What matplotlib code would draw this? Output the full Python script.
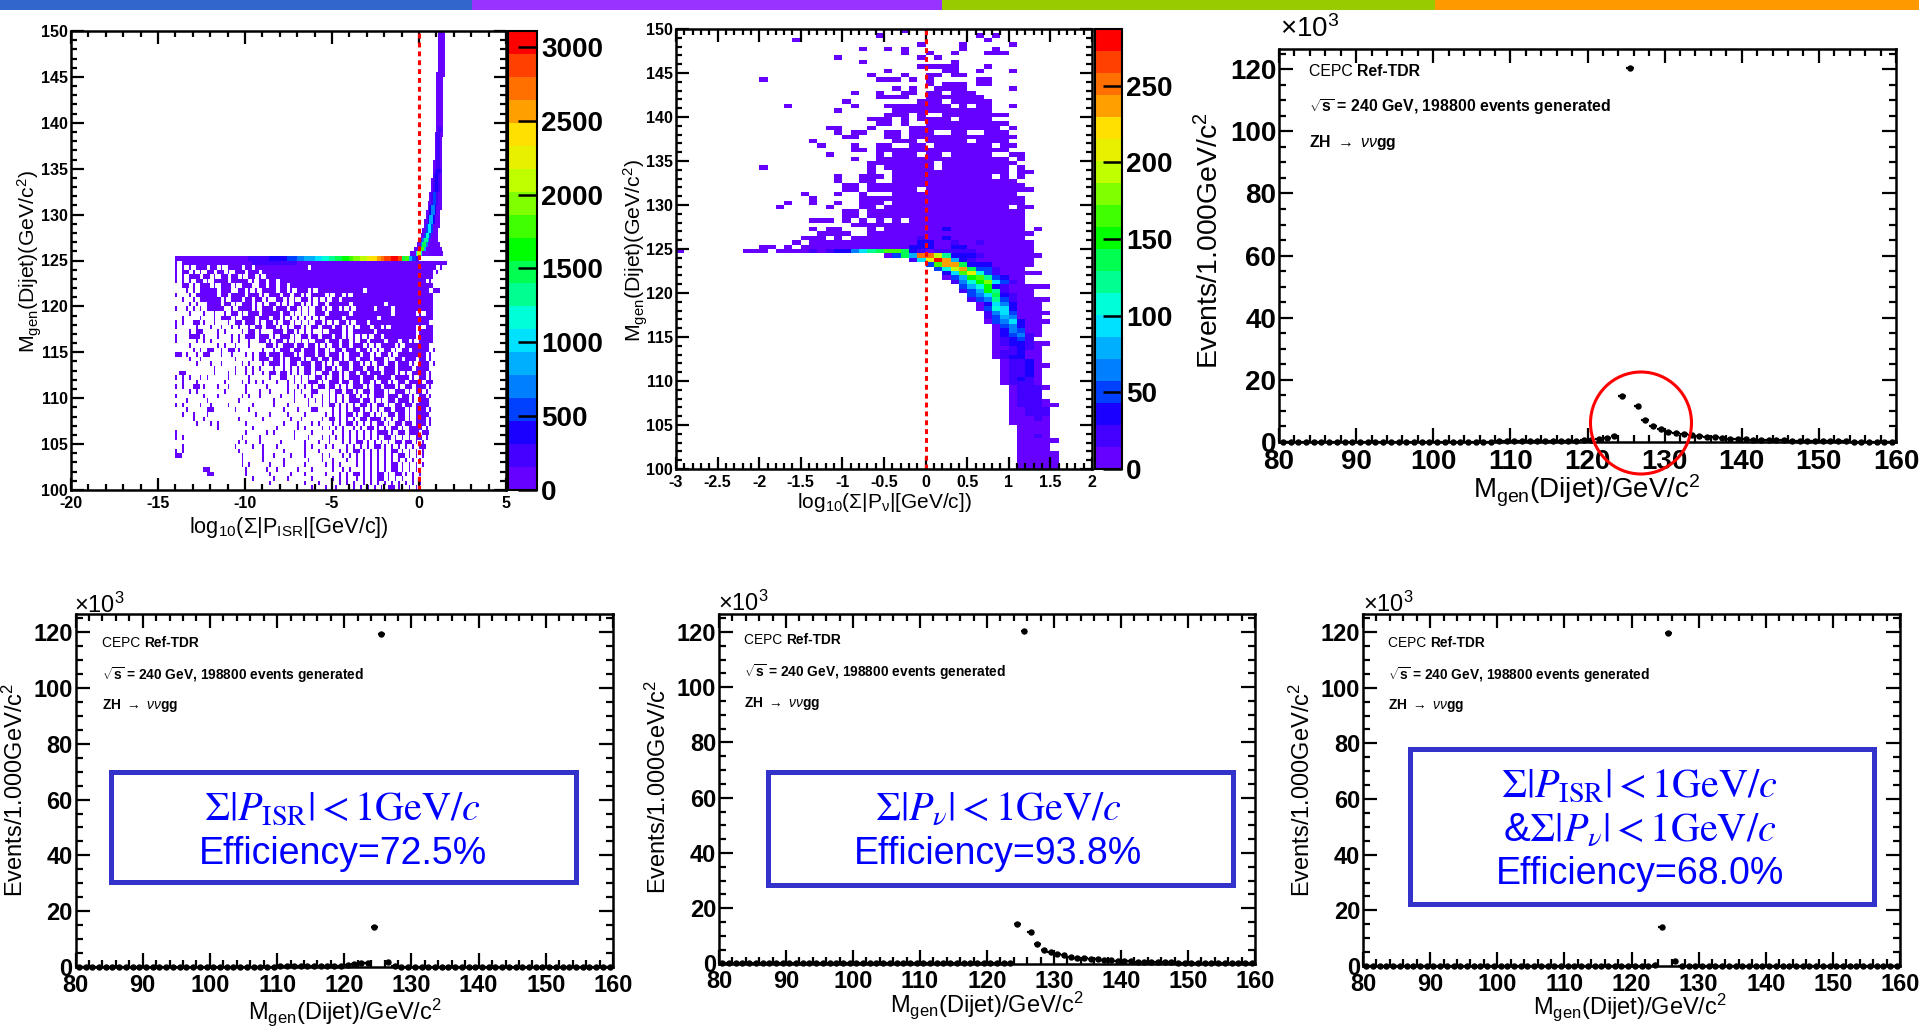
import numpy as np
import matplotlib
matplotlib.use('Agg')
import matplotlib.pyplot as plt
from matplotlib.colors import ListedColormap, BoundaryNorm
from matplotlib.patches import Rectangle, Ellipse
from matplotlib.ticker import MultipleLocator

plt.rcParams['font.family'] = ['Liberation Sans', 'DejaVu Sans']
plt.rcParams['mathtext.fontset'] = 'custom'
plt.rcParams['mathtext.rm'] = 'Liberation Sans'
plt.rcParams['mathtext.it'] = 'Liberation Sans:italic'
plt.rcParams['mathtext.bf'] = 'Liberation Sans:bold'

W, H = 1919, 1030

# palette, bottom to top
palette = ['#6600ff', '#4400ff', '#1a00ff', '#0040ff', '#0080ff', '#00b0ff', '#00e0ff',
           '#00ffd8', '#00ff90', '#00ff50', '#00ff00', '#40ff00', '#80ff00', '#c0ff00',
           '#e8f000', '#ffe000', '#ffa000', '#ff7000', '#ff4000', '#ff0000']

# ---- top strip: start pixel, end pixel, colour
strip_edges = [0, 472, 942, 1194, 1435, 1919]
strip_colors = ['#3366cc', '#9933ff', '#99cc00', '#99cc00', '#ff9900']

# ---- left 2D plot: occupied cells below the 125 GeV band, one row per 0.5 GeV
# top row is 124.5-125, column 0 starts at -14, each column is 0.2 wide
isr_cells = [
 "#.############################################################################",
 "#.#.#.###.##.#.####.##.###############.####################################.#",
 "#.##.#.#.##.##.#.###.###.#################################################.#",
 "#.#.###.##.#.##.##.#.##.#.################################################",
 "#.#.#.##.#.####.#####.#.##.##.##########################################.#",
 "..##.#.###.#.###.#.###..##.##.##.#########################################",
 "...#.#.#####.###..##.#.#.####.##.#.###.#.#############.##################.##",
 "#...#.######.##.####.###.#.###.##.##.#.####.#.##.#.#######################.",
 "..#..#.######.#.###.##.##.#..##.#.#.##.#.#.#.##.##########################.",
 "....#.#..####.##.#.###.#.#.##.#.#.##.#.#.##.######.#########.#############.",
 "#..#.#.#.#####..#.####.#.###.###.##.#.#.##.#.##.#.#.#####.####.###########.",
 "....#...#..#..#.##.#.###.#####.##.#.#.#.###.######.###########.######.#.##.",
 "..#....#...#.###.#.####.###.##.#.#.#.#.#.#.#####.#########.###############.",
 "#.#..##.#..#...#.##.###.#.##.#.##.#.#.#.##.#.#.##.#.###.#################..",
 "#.....#...#..#..#.#..#.##.###.#.#.##.#.##.###.##.#.#.###.##.#.#######.#.##.",
 "....#.##....#.#....#.##.#...###.##.#.#.#..#.####.#.######.###########.####.",
 "#...###.#...#...#.#.###.###.#.###.#.##.##.###.##.#.#.#.#.##.#########.####.",
 "#.....#.#.#.....#.#..#..##.#.##.#.#.#.#.###.###.##.#.##.####.###.##.#.####.",
 "....#.......#.#..#...#....##.#.###.##.##.#.#.##.##.###.#.#.####.#.#######..",
 ".....#.#.##..#.##.#......#..#.###.##.###.##.#.##.###.##.#.#.##.#.##.#####.#",
 "##.#..#.##...#..#...#.#.##.###.###.#.###.##.###.#.###.##.#.##.#.########.#.",
 "....#..#.........#....#.###.##.#.###.#.##.##.##.#.##.###.###.#.##.###.##.#.",
 "......#...#..#.....#.#...#.###.#.##.###.##.#.#.###.##.#.#.##.##.###.#.###.#",
 "...........#.....#..#.#.#...#..#.#.#.##.##.##.#.##.###.##.#.###.####.####..",
 ".##........#...#.#..#.#..#.##.##.#.#.##.#.##.##.#.##.##.###.###.#.#.####.#.",
 "#.#.#..#.#.....#.....#.....#..##..#.#.#.##.#.##.#.###.###.####.####.#.##.#.",
 "..#...#.......#....#.#.#.#...#..#.#.#.###.#.###.##.##.##.#.##.#.##.####.##.",
 "#.#..##.#...#..#....#.....#.....#..#.#.#.##.##.#.#.###.#.##.###.#.##.###.#.",
 "....#.#.......#.....#...#..#....#.#.#..##...#.##.##.#.##.###.#.###.#.##.#..",
 "#.......#...#......#.#..#.....#...#..#.#..#.#.#.#.##.#.#.###.###.##.#.##.#.",
 "...#.....#........#.........#.....#...#.#.#.#.#.#.###.##.#.#.##.###.#.###..",
 "#.#....#..#....#......#.....#...#.....#...#.##.#.#.#.##.#.##.#.##.##.####..",
 "...#.....##......#...#.........#...#...##....#.#.#.##.#.#.#.##.###.#.###.#.",
 "..#..#...#.............#...#....#....#.....#.#.#.##.#.##.#.#.##.##.#.####..",
 ".....#..#.........#......#.......#..#.....#.##.#.#.#.##.###.#.#.##.#.###.#.",
 "......#...#.#.......#..........#...#...#.#...#.#.##.#.#.#.##.#.##.##.###.#.",
 "............#.........#......#.....#.#....#.#.#.#..#.#.##.#.#.##.#.####.#..",
 "#...................#.....#.#.....#....#.....#..#.#.#.#.#.###.#.##.###.##..",
 "#.#................#....#.........#...#...#.#.#.#.#.#.#.#.#.##.#.#.#.##.#..",
 "..................#.#...#.....#......#...#..#...#.#.##.#.#.#.#.##.##.#.#...",
 "..#..............#....#..#...#.......#.#...#.#...#.#.#.#.##.#.#.#.#.#.##...",
 "#.#...............#......#.....#.....#...#.....#.#.##.#.#.#.#.##.#.#.#.#...",
 "##.................#.....#..#....#...#....#.#...#.#.#.#.#.#.#.#.##.#.#.#...",
 "...................#.....#.....#......#...#..#...#..#.#.#.#.#.#.#.#.#.#....",
 "...................#.#.....#...#.....#.....#.#.#....#.#.#.#.#.##.#.#.#.#...",
 "........##..........#.....#..#.....#...#.....#..#.#...#.#.#.#.##.#.#.#.....",
 ".........##.........#......#.....#...#.....#...#.#.##.#.#.##.#.##.#.#.#....",
 "......................#.....#...#......#.....#.#.#..#.#.#.##.#.#.#..#......",
 "...........................#.........#...#.....#.#.#..#.#.#.#.#.#.#.#.#....",
 ".......................................#...#..#....#.#.#.#.#.##.#..#.#.....",
]

# band 125-125.5: value in each 0.2-wide column from x = -14
isr_band = [60, 60, 60, 60, 60, 60, 60, 70, 70, 70, 80, 80, 80, 90, 90, 90, 100, 100, 100, 110,
            120, 170, 200, 230, 260, 280, 300, 330, 360, 400, 430, 460, 500, 560, 620, 680, 740, 800,
            860, 930, 1000, 1070, 1140, 1220, 1300, 1380, 1460, 1540, 1620, 1700, 1790, 1880, 1970, 2060, 2160,
            2260, 2360, 2460, 2560, 2680, 2800, 2920, 3040, 3000, 2800, 1500, 1800, 900, 500, 200]
# darker strip in the row below the band: x start, x end, value
isr_second_row = [(-9.6, -7.0, 220)]

# rising branch: rows 125.5 upward, 0.5 GeV each
isr_rise_left = [-0.5, -0.3, -0.1, 0.0, 0.1, 0.2, 0.3, 0.3, 0.4, 0.4, 0.5, 0.5, 0.6, 0.6, 0.7, 0.7, 0.7, 0.8, 0.8, 0.8,
                 0.8, 0.9, 0.9, 0.9, 0.9, 0.9, 0.9, 1.0, 1.0, 1.0, 1.0, 1.0, 1.0, 1.0, 1.0, 1.0, 1.0, 1.0, 1.0, 1.0,
                 1.1, 1.1, 1.1, 1.1, 1.1, 1.1, 1.1, 1.2, 1.2]
isr_rise_right = [1.4, 1.3, 1.2, 1.1, 1.1, 1.1, 1.2, 1.2, 1.2, 1.2, 1.3, 1.3, 1.3, 1.3, 1.3, 1.3, 1.3, 1.3, 1.3, 1.3,
                  1.3, 1.3, 1.3, 1.3, 1.3, 1.3, 1.4, 1.3, 1.3, 1.3, 1.4, 1.4, 1.4, 1.4, 1.4, 1.4, 1.4, 1.4, 1.4, 1.4,
                  1.4, 1.4, 1.4, 1.5, 1.5, 1.5, 1.5, 1.4, 1.4]
isr_rise_core = [-0.1, 0.1, 0.2, 0.3, 0.4, 0.5, 0.5, 0.6, 0.6, 0.7, 0.7, 0.8, 0.8, 0.8, 0.9, 0.9, 0.9, 0.9, 1.0, 1.0,
                 1.0, 1.0, 1.0, 1.0, 1.0, 1.0, 1.0, 1.1, 1.1, 1.1, 1.1, 1.1, 1.1, 1.1, 1.1, 1.1, 1.1, 1.1, 1.1, 1.2,
                 1.2, 1.2, 1.2, 1.2, 1.2, 1.2, 1.2, 1.2, 1.2]
isr_rise_peak = [2100, 1800, 1500, 1300, 1200, 1050, 950, 850, 800, 700, 650, 600, 550, 500, 450, 420, 400, 360, 330, 300,
                 280, 260, 240, 220, 200, 190, 170, 160, 150, 140, 130, 120, 110, 100, 100, 90, 90, 80, 80, 70,
                 70, 60, 60, 60, 50, 50, 50, 40, 40]

# ---- middle 2D plot: occupied runs above the ridge, one entry per 0.5 GeV row (149.5 at the top)
nu_runs_top = [
 [(-0.3, -0.2)],
 [(-0.6, -0.5), (0.6, 0.7), (0.8, 0.9)],
 [(-1.6, -1.5), (0.7, 0.8)],
 [(-0.1, 0.0), (0.4, 0.5), (1.0, 1.1)],
 [(-0.8, -0.7), (-0.5, -0.4), (-0.3, -0.2), (0.4, 0.5), (0.8, 0.9)],
 [(-0.3, -0.2), (0.0, 0.1), (0.3, 0.4), (0.7, 1.0)],
 [(-1.1, -1.0), (-0.1, 0.0), (0.1, 0.2)],
 [(-0.8, -0.7), (0.3, 0.4)],
 [(-0.1, 0.4), (0.7, 0.8)],
 [(-0.5, -0.4), (0.2, 0.4), (0.6, 0.7), (1.0, 1.1)],
 [(-0.7, -0.6), (-0.3, -0.2), (0.0, 0.2), (0.3, 0.5)],
 [(-2.0, -1.9), (-0.6, -0.3), (-0.2, -0.1), (0.0, 0.1), (0.6, 0.8)],
 [(0.0, 0.1), (0.2, 0.5), (0.6, 0.8)],
 [(-0.4, -0.3), (-0.2, -0.1), (0.1, 0.5), (1.0, 1.1)],
 [(-0.9, -0.8), (-0.6, -0.5), (-0.3, -0.1), (0.0, 0.2), (0.3, 0.6)],
 [(-0.6, -0.2), (0.0, 0.7)],
 [(-1.0, -0.9), (-0.1, 0.2), (0.3, 0.8)],
 [(-1.7, -1.6), (-0.9, -0.8), (-0.5, 0.3), (0.4, 0.5), (0.6, 0.8), (1.0, 1.1)],
 [(-1.1, -1.0), (-0.4, 0.8)],
 [(-0.5, -0.2), (-0.1, 0.0), (0.2, 1.0)],
 [(-0.7, -0.4), (-0.3, -0.2), (-0.1, 0.3), (0.4, 0.8)],
 [(-0.6, -0.4), (-0.3, -0.2), (0.0, 1.0)],
 [(-1.2, -1.0), (-0.7, -0.6), (-0.2, 0.9), (1.0, 1.1)],
 [(-1.1, -1.0), (-0.9, -0.7), (-0.5, -0.3), (-0.2, 0.1), (0.3, 0.5), (0.7, 1.0)],
 [(-1.0, -0.8), (-0.5, -0.3), (-0.2, 1.1)],
 [(-1.4, -1.3), (-0.4, -0.1), (0.0, 0.5), (0.6, 1.0)],
 [(-1.3, -1.2), (-0.9, -0.8), (-0.6, -0.4), (-0.2, 0.0), (0.1, 0.8), (0.9, 1.1)],
 [(-0.9, -0.7), (-0.6, 1.0)],
 [(-1.2, -1.1), (-0.6, -0.5), (-0.4, -0.1), (0.0, 0.2), (0.3, 0.8), (1.0, 1.2)],
 [(-0.9, -0.8), (-0.6, 1.0), (1.1, 1.2)],
 [(-0.7, 0.1), (0.2, 1.1)],
 [(-2.0, -1.9), (-0.7, -0.6), (-0.5, 0.1), (0.2, 1.0), (1.1, 1.2)],
 [(-0.7, -0.6), (-0.4, 1.0), (1.1, 1.3)],
 [(-1.1, -1.0), (-0.8, -0.5), (-0.4, 0.8), (0.9, 1.0), (1.1, 1.2)],
 [(-1.1, -1.0), (-0.8, -0.6), (-0.4, 1.1)],
 [(-1.0, -0.8), (-0.7, 1.2)],
 [(-1.0, -0.8), (-0.7, -0.1), (0.0, 1.1), (1.1, 1.3)],
 [(-1.5, -1.4), (-1.1, -1.0), (-0.8, -0.7), (-0.4, 1.1)],
 [(-1.4, -1.3), (-0.8, 1.2)],
 [(-1.7, -1.6), (-1.4, -1.3), (-1.1, -1.0), (-0.8, -0.5), (-0.4, 1.2)],
 [(-1.8, -1.7), (-1.2, -1.1), (-0.8, -0.6), (-0.5, 1.0), (1.1, 1.3)],
 [(-1.0, -0.8), (-0.7, 1.2)],
 [(-1.0, -0.8), (-0.7, 1.2)],
 [(-1.4, -1.1), (-1.0, -0.9), (-0.8, -0.7), (-0.6, -0.5), (-0.4, -0.3), (-0.2, 1.2)],
 [(-0.9, 1.2)],
 [(-1.4, -1.3), (-1.2, -1.0), (-0.7, -0.6), (-0.5, 1.2), (1.3, 1.4)],
 [(-1.3, -0.9), (-0.7, 1.3)],
 [(-1.5, -1.2), (-1.1, -1.0), (-0.9, 1.2)],
 [(-1.6, -1.5), (-1.4, 1.3)],
 [(-2.0, -1.8), (-1.7, -1.6), (-1.5, 1.3)],
]
# darker cells just above the ridge: x start, mass row, value
nu_dark_cells = [(0.2, 127.0, 30), (-0.1, 126.0, 25), (0.2, 126.0, 30), (0.3, 125.5, 25),
                 (-0.1, 125.5, 30), (0.0, 125.5, 30), (-0.1, 125.0, 35), (0.0, 125.0, 35),
                 (0.3, 125.0, 30), (0.4, 125.0, 30), (-0.2, 125.0, 30), (0.6, 125.5, 25)]

# ridge rows from 124.5 downward: first x of the row and cell values, purple up to nu_right
nu_ridge_start = [-3.0, -0.5, -0.2, 0.0, 0.1, 0.2, 0.2, 0.3, 0.4, 0.4, 0.5, 0.5, 0.6, 0.6, 0.7,
                  0.7, 0.7, 0.8, 0.8, 0.8, 0.8, 0.8, 0.8, 0.8, 0.8, 0.9, 0.9, 0.9, 0.9, 0.9, 0.9,
                  1.0, 1.0, 1.0, 1.0, 1.0, 1.0, 1.0, 1.0, 1.0, 1.1, 1.1, 1.1, 1.1, 1.1, 1.1, 1.1, 1.1, 1.1, 1.1]
nu_ridge_vals = [
 [5, 0, 0, 0, 0, 0, 0, 0, 5, 5, 5, 0, 5, 5, 5, 5, 25, 5, 25, 40, 40, 60, 100, 115, 130, 160, 160, 130, 40, 25, 5, 15, 25, 25, 15, 15, 10, 10],
 [10, 50, 140, 75, 255, 255, 195, 115, 40, 40, 40, 25],
 [25, 95, 215, 280, 235, 75, 40, 25],
 [55, 165, 235, 235, 140, 40, 30, 30],
 [45, 105, 190, 235, 130, 50, 50, 25],
 [40, 100, 165, 210, 110, 50, 25],
 [12, 45, 85, 150, 170, 120, 50, 30],
 [15, 60, 110, 150, 175, 100, 55, 25],
 [50, 75, 110, 155, 30, 15],
 [15, 45, 75, 150, 115, 25],
 [50, 60, 100, 130, 30, 15],
 [15, 50, 65, 120, 50, 20],
 [10, 40, 100, 65, 30],
 [12, 45, 105, 100, 30],
 [15, 70, 100, 50],
 [20, 50, 80, 65],
 [12, 45, 70, 100, 40],
 [12, 45, 70, 40],
 [12, 30, 70, 50],
 [12, 30, 50, 70, 15],
 [12, 15, 40, 45, 15],
 [12, 15, 30, 40, 15],
 [10, 10, 25, 35, 25],
 [12, 15, 25, 30],
 [12, 25, 30, 30],
 [10, 20, 25, 30],
 [12, 20, 25, 30],
 [10, 15, 25, 30],
 [10, 20, 25, 30],
 [10, 20, 30, 25],
 [10, 15, 25, 20],
 [10, 15, 25, 15],
 [10, 20, 25, 15],
 [8, 20, 15, 15],
 [8, 15, 25, 25],
 [8, 20, 25, 20],
 [8, 10, 15, 20, 20],
 [8, 8, 20, 25, 15],
 [8, 8, 10, 15],
 [8, 8, 10, 8],
 [5, 8, 10],
 [5, 8, 8],
 [5, 5, 15],
 [5, 5, 8],
 [5, 5, 5],
 [5, 5, 5, 8],
 [5, 5, 5],
 [5, 5, 5],
 [5, 5, 5],
 [5, 5, 5],
]
nu_right = [1.3, 1.4, 1.3, 1.3, 1.2, 1.4, 1.2, 1.2, 1.5, 1.3, 1.3, 1.5, 1.4, 1.4, 1.5, 1.4, 1.5, 1.4, 1.4, 1.4,
            1.3, 1.5, 1.4, 1.4, 1.4, 1.4, 1.5, 1.4, 1.4, 1.4, 1.4, 1.5, 1.4, 1.4, 1.5, 1.6, 1.4, 1.5, 1.5, 1.5,
            1.5, 1.5, 1.5, 1.6, 1.5, 1.5, 1.6, 1.6, 1.6, 1.6]

# ---- 1D plots: thousands of events in 1 GeV bins, 80.5 ... 159.5
mass_bins = [80.5 + i for i in range(80)]
full_counts = [0.05, 0.05, 0.04, 0.06, 0.05, 0.06, 0.06, 0.07, 0.06, 0.07, 0.07, 0.08, 0.08, 0.08, 0.09, 0.09,
               0.1, 0.1, 0.1, 0.11, 0.12, 0.12, 0.13, 0.13, 0.14, 0.15, 0.15, 0.16, 0.17, 0.18, 0.2, 0.2,
               0.22, 0.25, 0.27, 0.3, 0.33, 0.38, 0.45, 0.55, 0.7, 1.0, 1.4, 1.8, 14.9, 120.5, 11.5, 7.0, 5.3, 4.2,
               3.3, 2.9, 2.5, 2.1, 1.9, 1.7, 1.5, 1.3, 1.1, 1.0, 0.9, 0.8, 0.7, 0.65, 0.6, 0.5, 0.45, 0.4, 0.35, 0.3,
               0.25, 0.22, 0.2, 0.18, 0.15, 0.12, 0.1, 0.1, 0.08, 0.08]
isr_counts = [0.05, 0.05, 0.05, 0.06, 0.05, 0.06, 0.06, 0.06, 0.06, 0.07, 0.07, 0.07, 0.08, 0.08, 0.08, 0.09,
              0.09, 0.1, 0.1, 0.1, 0.11, 0.12, 0.12, 0.13, 0.13, 0.14, 0.15, 0.15, 0.16, 0.17, 0.18, 0.2,
              0.2, 0.22, 0.25, 0.28, 0.3, 0.35, 0.4, 0.5, 0.6, 0.9, 1.3, 1.6, 14.5, 119.5, 1.7, 0.2, 0.1, 0.1,
              0.08, 0.08, 0.07, 0.07, 0.06, 0.06, 0.06, 0.05, 0.05, 0.05, 0.05, 0.05, 0.05, 0.05, 0.05, 0.05, 0.05, 0.05,
              0.05, 0.05, 0.05, 0.05, 0.05, 0.05, 0.05, 0.05, 0.05, 0.05, 0.05, 0.05]
nu_counts = [0.05, 0.05, 0.05, 0.05, 0.05, 0.05, 0.05, 0.05, 0.05, 0.05, 0.05, 0.05, 0.05, 0.05, 0.05, 0.05,
             0.05, 0.05, 0.05, 0.05, 0.06, 0.06, 0.06, 0.06, 0.06, 0.07, 0.07, 0.07, 0.07, 0.08, 0.08, 0.08,
             0.08, 0.09, 0.09, 0.09, 0.1, 0.1, 0.1, 0.11, 0.12, 0.12, 0.15, 0.3, 14.3, 120.5, 11.5, 7.0, 5.0, 4.1,
             3.3, 2.9, 2.5, 2.1, 1.9, 1.7, 1.5, 1.3, 1.1, 1.0, 0.9, 0.8, 0.7, 0.65, 0.6, 0.5, 0.45, 0.4, 0.35, 0.3,
             0.25, 0.22, 0.2, 0.18, 0.15, 0.12, 0.1, 0.1, 0.08, 0.08]
both_counts = [0.05, 0.05, 0.05, 0.05, 0.05, 0.05, 0.05, 0.05, 0.05, 0.05, 0.05, 0.05, 0.05, 0.05, 0.05, 0.05,
               0.05, 0.05, 0.05, 0.05, 0.05, 0.05, 0.05, 0.05, 0.05, 0.05, 0.05, 0.05, 0.05, 0.05, 0.05, 0.05,
               0.05, 0.05, 0.05, 0.05, 0.05, 0.05, 0.05, 0.06, 0.06, 0.07, 0.1, 0.4, 14.0, 119.5, 1.8, 0.1, 0.06, 0.05,
               0.05, 0.05, 0.05, 0.05, 0.05, 0.05, 0.05, 0.05, 0.05, 0.05, 0.05, 0.05, 0.05, 0.05, 0.05, 0.05, 0.05, 0.05,
               0.05, 0.05, 0.05, 0.05, 0.05, 0.05, 0.05, 0.05, 0.05, 0.05, 0.05, 0.05]

# tick labels and text
hist_yticks = [0, 20, 40, 60, 80, 100, 120]
hist_xticks = [80, 90, 100, 110, 120, 130, 140, 150, 160]
mass_yticks = [100, 105, 110, 115, 120, 125, 130, 135, 140, 145, 150]
isr_cbar_ticks = [0, 500, 1000, 1500, 2000, 2500, 3000]
nu_cbar_ticks = [0, 50, 100, 150, 200, 250]
isr_cut = r'$\Sigma|P_{\mathrm{ISR}}|<1\mathrm{GeV}/c$'
nu_cut = r'$\Sigma|P_{\nu}|<1\mathrm{GeV}/c$'
both_cut = r'&$\Sigma|P_{\nu}|<1\mathrm{GeV}/c$'


def px_axes(left, top, right, bottom):
    return fig.add_axes([left / W, 1 - bottom / H, (right - left) / W, (bottom - top) / H])


def root_ticks(ax, major_len, minor_len):
    ax.tick_params(which='major', direction='in', top=True, right=True, length=major_len, width=1.6)
    ax.tick_params(which='minor', direction='in', top=True, right=True, length=minor_len, width=1.6)
    for s in ax.spines.values():
        s.set_linewidth(1.8)


def draw_2d(ax, cax, xedges, yedges, z, vmax, cticks, xmajor, xminor, xlim, xfmt):
    levels = np.linspace(0, vmax, 21)
    cmap = ListedColormap(palette)
    norm = BoundaryNorm(levels, 20)
    zm = np.ma.masked_where(z <= 0, z)
    ax.pcolormesh(xedges, yedges, zm, cmap=cmap, norm=norm, shading='flat')
    ax.axvline(0, color='#ff0000', lw=2.2, dashes=(1.6, 1.3))
    ax.set_xlim(*xlim)
    ax.set_ylim(100, 150)
    ax.xaxis.set_major_locator(MultipleLocator(xmajor))
    ax.xaxis.set_minor_locator(MultipleLocator(xminor))
    ax.set_yticks(mass_yticks)
    ax.yaxis.set_minor_locator(MultipleLocator(1))
    ax.xaxis.set_major_formatter(xfmt)
    root_ticks(ax, 9, 4.5)
    ax.tick_params(axis='both', which='major', labelsize=11.5, pad=2)
    ax.tick_params(axis='x', which='major', pad=4)
    for t in ax.get_xticklabels() + ax.get_yticklabels():
        t.set_fontweight('bold')
    cb = fig.colorbar(plt.cm.ScalarMappable(norm=norm, cmap=cmap), cax=cax, drawedges=False)
    cb.set_ticks(cticks)
    cb.minorticks_off()
    cb.set_ticklabels([str(c) for c in cticks])
    cax.tick_params(direction='in', length=14, width=1.8, pad=3, labelsize=20)
    for t in cax.get_yticklabels():
        t.set_fontweight('bold')
    cb.outline.set_linewidth(1.5)


def draw_hist(ax, counts, tick_size):
    ax.errorbar(mass_bins, counts, xerr=0.5, fmt='o', color='black', ms=3.6, elinewidth=1.6, clip_on=False)
    ax.set_xlim(80, 160)
    ax.set_ylim(0, 126.5)
    ax.set_xticks(hist_xticks)
    ax.set_yticks(hist_yticks)
    ax.xaxis.set_minor_locator(MultipleLocator(2))
    ax.yaxis.set_minor_locator(MultipleLocator(5))
    root_ticks(ax, 10, 5)
    ax.tick_params(axis='both', which='major', labelsize=tick_size, pad=2)
    ax.tick_params(axis='x', which='major', pad=5)
    for t in ax.get_xticklabels() + ax.get_yticklabels():
        t.set_fontweight('bold')


def annotations(x, ys, size):
    t = top.text(x, ys[0], 'CEPC ', fontsize=size, va='center')
    top.annotate('Ref-TDR', xy=(1, 0.5), xycoords=t, va='center', fontsize=size, fontweight='bold')
    top.text(x, ys[1], r'$\sqrt{\mathbf{s}}$ = 240 GeV, 198800 events generated', fontsize=size, fontweight='bold', va='center')
    top.text(x, ys[2], r'$\mathbf{ZH}\ \rightarrow\ \nu\nu\mathbf{gg}$', fontsize=size, va='center')


fig = plt.figure(figsize=(W / 100, H / 100), dpi=100, facecolor='white')

# left 2D plot, 0.1 x 0.5 cells
isr_x = np.linspace(-20, 5, 251)
mass_y = np.linspace(100, 150, 101)
isr_z = np.zeros((100, 250))


def isr_col(x):
    return int(round((x + 20) * 10))


for k, row in enumerate(isr_cells):
    r = 49 - k
    for c, ch in enumerate(row):
        if ch == '#':
            c0 = isr_col(-14 + 0.2 * c)
            # a lone cell in the map is one narrow 0.1 bin in the picture
            lone = (c == 0 or row[c - 1] == '.') and (c == len(row) - 1 or row[c + 1] == '.')
            isr_z[r, c0:c0 + (1 if lone else 2)] = 40
for c, v in enumerate(isr_band):
    c0 = isr_col(-14 + 0.2 * c)
    isr_z[50, c0:c0 + 2] = v
for x0, x1, v in isr_second_row:
    isr_z[49, isr_col(x0):isr_col(x1)] = v
for k in range(len(isr_rise_left)):
    r = 51 + k
    isr_z[r, isr_col(isr_rise_left[k]):isr_col(isr_rise_right[k])] = 40
    c0 = isr_col(isr_rise_core[k])
    isr_z[r, c0 - 1] = isr_rise_peak[k] * 0.5
    isr_z[r, c0:c0 + 2] = isr_rise_peak[k]
    isr_z[r, c0 + 2] = isr_rise_peak[k] * 0.5

# middle 2D plot, 0.1 x 0.5 cells
nu_x = np.linspace(-3, 2, 51)
nu_z = np.zeros((100, 50))


def nu_col(x):
    return int(round((x + 3) * 10))


for k, runs in enumerate(nu_runs_top):
    r = 99 - k
    for x0, x1 in runs:
        nu_z[r, nu_col(x0):nu_col(x1)] = 5
for x0, m, v in nu_dark_cells:
    nu_z[int((m - 100) * 2), nu_col(x0)] = v
for k, (x0, vals) in enumerate(zip(nu_ridge_start, nu_ridge_vals)):
    r = 49 - k
    c0 = nu_col(x0)
    nu_z[r, c0 + len(vals):nu_col(nu_right[k])] = 5
    for i, v in enumerate(vals):
        nu_z[r, c0 + i] = v

fmt = plt.FuncFormatter(lambda v, p: '%g' % v)
ax1 = px_axes(71, 31, 506, 490)
cax1 = px_axes(508, 31, 537, 490)
draw_2d(ax1, cax1, isr_x, mass_y, isr_z, 3107, isr_cbar_ticks, 5, 1, (-20, 5), fmt)
ax2 = px_axes(676, 29, 1092, 469)
cax2 = px_axes(1095, 29, 1122, 469)
draw_2d(ax2, cax2, nu_x, mass_y, nu_z, 287, nu_cbar_ticks, 0.5, 0.1, (-3, 2), fmt)

ax3 = px_axes(1279, 49, 1896, 442)
draw_hist(ax3, full_counts, 20)
ax4 = px_axes(75.5, 614, 613, 967)
draw_hist(ax4, isr_counts, 17)
ax5 = px_axes(719, 614, 1255, 963.5)
draw_hist(ax5, nu_counts, 17)
ax6 = px_axes(1363, 614, 1900, 966)
draw_hist(ax6, both_counts, 17)

# overlay in full-image pixels for labels, boxes and the strip
top = fig.add_axes([0, 0, 1, 1], zorder=10)
top.set_xlim(0, W)
top.set_ylim(H, 0)
top.axis('off')
top.patch.set_alpha(0)

for i, c in enumerate(strip_colors):
    top.add_patch(Rectangle((strip_edges[i], 0), strip_edges[i + 1] - strip_edges[i], 10, color=c, lw=0))

mass_label = r'$\mathrm{M_{gen}(Dijet)(GeV/c^{2})}$'
top.text(30, 262, mass_label, rotation=90, ha='center', va='center', fontsize=15.3)
top.text(636, 251, mass_label, rotation=90, ha='center', va='center', fontsize=15.3)
top.text(289, 527, r'$\mathrm{log_{10}(\Sigma|P_{ISR}|[GeV/c])}$', ha='center', va='center', fontsize=15.7)
top.text(884, 502, r'$\mathrm{log_{10}(\Sigma|P_{\nu}|[GeV/c])}$', ha='center', va='center', fontsize=15)

ev_label = r'$\mathrm{Events/1.000GeV/c^{2}}$'
dij_label = r'$\mathrm{M_{gen}(Dijet)/GeV/c^{2}}$'
for x, y, s in [(1210, 241, 20.4), (15, 790, 17), (658, 787, 17), (1302, 790, 17)]:
    top.text(x, y, ev_label, rotation=90, ha='center', va='center', fontsize=s)
for x, y, s in [(1587, 491, 20), (345, 1012, 17), (987, 1005, 17), (1630, 1007, 17)]:
    top.text(x, y, dij_label, ha='center', va='center', fontsize=s)
for x, y, s in [(1280, 29, 20), (74, 605, 17), (718, 603, 17), (1363, 604, 17)]:
    top.text(x, y, r'$\times\mathrm{10^{3}}$', va='center', fontsize=s)

annotations(1309, (71, 107, 142), 11.4)
annotations(102, (643, 675, 706), 9.9)
annotations(744, (640, 672, 703), 9.9)
annotations(1388, (643, 675, 705), 9.9)

top.add_patch(Ellipse((1641, 423), 101, 102, fill=False, edgecolor='#ff0000', lw=2.2))

box_blue = '#3333cc'
text_blue = '#0000ff'
for x0, y0, x1, y1 in [(111, 772, 576, 882), (768, 772, 1233, 885), (1410, 749, 1874, 904)]:
    top.add_patch(Rectangle((x0, y0), x1 - x0, y1 - y0, facecolor='white', edgecolor=box_blue, lw=3.6))

cut_size = 29
eff_size = 27
top.text(343, 809, isr_cut, color=text_blue, ha='center', va='center', fontsize=cut_size, math_fontfamily='stix')
top.text(343, 854, 'Efficiency=72.5%', color=text_blue, ha='center', va='center', fontsize=eff_size)
top.text(998, 809, nu_cut, color=text_blue, ha='center', va='center', fontsize=cut_size, math_fontfamily='stix')
top.text(998, 854, 'Efficiency=93.8%', color=text_blue, ha='center', va='center', fontsize=eff_size)
top.text(1640, 786, isr_cut, color=text_blue, ha='center', va='center', fontsize=cut_size, math_fontfamily='stix')
top.text(1640, 830, both_cut, color=text_blue, ha='center', va='center', fontsize=cut_size, math_fontfamily='stix')
top.text(1640, 874, 'Efficiency=68.0%', color=text_blue, ha='center', va='center', fontsize=eff_size)

fig.savefig('out.png', dpi=100)
